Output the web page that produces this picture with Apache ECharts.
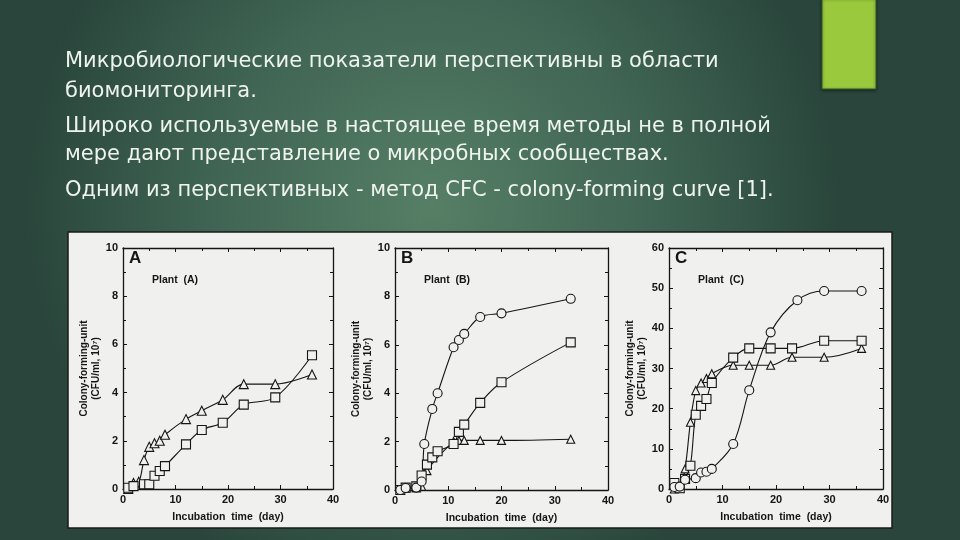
<!DOCTYPE html>
<html><head><meta charset="utf-8">
<script src="https://cdn.jsdelivr.net/npm/echarts@6/dist/echarts.min.js"></script>
<style>html,body{margin:0;padding:0;background:#34554a}#c{width:960px;height:540px}</style>
</head><body><div id="c"></div>
<script>
// ---- slide text ----
const slideLines = [
  'Микробиологические показатели перспективны в области',
  'биомониторинга.',
  'Широко используемые в настоящее время методы не в полной',
  'мере дают представление о микробных сообществах.',
  'Одним из перспективных - метод CFC - colony-forming curve [1].'
];
const panelLetters = ['A', 'B', 'C'];
const plantLabels = ['Plant  (A)', 'Plant  (B)', 'Plant  (C)'];
const xTicksMax = 40;
const yMaxes = [10, 10, 60];
const yIntervals = [2, 2, 10];

// ---- panel A ----
const aTriDays = [1, 2, 3, 4, 5, 6, 7, 8, 12, 15, 19, 23, 29, 36];
const aTri     = [0, 0.25, 0.3, 1.2, 1.75, 1.9, 2.0, 2.25, 2.9, 3.25, 3.7, 4.35, 4.35, 4.75];
const aSqDays  = [1, 2, 4, 5, 6, 7, 8, 12, 15, 19, 23, 29, 36];
const aSq      = [0.05, 0.12, 0.2, 0.2, 0.55, 0.75, 0.95, 1.85, 2.45, 2.75, 3.5, 3.8, 5.55];

// ---- panel B ----
const bCircDays = [1, 2, 4, 5, 5.5, 7, 8, 11, 12, 13, 16, 20, 33];
const bCirc     = [0, 0.08, 0.1, 0.35, 1.9, 3.35, 4.0, 5.9, 6.2, 6.45, 7.15, 7.3, 7.9];
const bSqDays   = [1, 2, 4, 5, 6, 7, 8, 11, 12, 13, 16, 20, 33];
const bSq       = [0, 0.1, 0.15, 0.6, 1.05, 1.35, 1.6, 1.9, 2.4, 2.7, 3.6, 4.45, 6.1];
const bTriDays  = [1, 2, 4, 5, 6, 11, 12, 13, 16, 20, 33];
const bTri      = [0, 0.08, 0.08, 0.15, 0.8, 2.0, 2.05, 2.05, 2.05, 2.05, 2.1];

// ---- panel C ----
const cCircDays = [1, 2, 3, 5, 6, 7, 8, 12, 15, 19, 24, 29, 36];
const cCirc     = [0.5, 0.6, 2.3, 2.7, 4.1, 4.3, 5.0, 11.2, 24.6, 39.0, 47.0, 49.3, 49.3];
const cSqDays   = [1, 2, 3, 4, 5, 6, 7, 8, 12, 15, 19, 23, 29, 36];
const cSq       = [1.5, 0.2, 2.5, 5.8, 18.5, 20.7, 22.4, 26.4, 32.7, 35.0, 35.0, 35.0, 36.9, 36.9];
const cTriDays  = [1, 2, 3, 4, 5, 6, 7, 8, 12, 15, 19, 23, 29, 36];
const cTri      = [0, 0.2, 5.0, 16.6, 24.5, 26.4, 27.5, 28.7, 30.8, 30.8, 30.8, 32.8, 32.8, 35.0];

const zip = (xs, ys) => xs.map((x, i) => [x, ys[i]]);

const grids = [
  {left: 123, top: 248, width: 210, height: 241},
  {left: 395, top: 248, width: 213, height: 242},
  {left: 669, top: 248, width: 214, height: 241}
];
const ink = '#151515';
const paper = '#f0f0ee';
const FONT = '"Liberation Sans", Arial, sans-serif';

const xAxis = [], yAxis = [];
grids.forEach((g, i) => {
  const common = {
    gridIndex: i, type: 'value', min: 0,
    axisLine: {show: true, onZero: false, lineStyle: {color: ink, width: 1.3}},
    axisTick: {show: true, inside: true, length: 4, lineStyle: {color: ink, width: 1}},
    minorTick: {show: true, splitNumber: 2, length: 3, lineStyle: {color: ink, width: 1}},
    splitLine: {show: false}
  };
  xAxis.push(Object.assign({}, common, {
    position: 'bottom', max: xTicksMax, interval: 10,
    axisLabel: {color: ink, fontWeight: 'bold', fontSize: 11, fontFamily: FONT, margin: 5},
    name: 'Incubation  time  (day)', nameLocation: 'middle', nameGap: 23,
    nameTextStyle: {color: ink, fontWeight: 'bold', fontSize: 10.5, fontFamily: FONT}
  }));
  xAxis.push(Object.assign({}, common, {
    position: 'top', max: xTicksMax, interval: 10, axisLabel: {show: false}
  }));
  yAxis.push(Object.assign({}, common, {
    position: 'left', max: yMaxes[i], interval: yIntervals[i],
    axisLabel: {color: ink, fontWeight: 'bold', fontSize: 11, fontFamily: FONT, margin: 5},
    name: 'Colony-forming-unit\n(CFU/ml, 10⁷)', nameLocation: 'middle', nameGap: 20, nameRotate: 90,
    nameTextStyle: {color: ink, fontWeight: 'bold', fontSize: 10, fontFamily: FONT, lineHeight: 12}
  }));
  yAxis.push(Object.assign({}, common, {
    position: 'right', max: yMaxes[i], interval: yIntervals[i], axisLabel: {show: false}
  }));
});

function mk(gi, data, symbol, size) {
  return {
    type: 'line', xAxisIndex: gi * 2, yAxisIndex: gi * 2, data: data,
    smooth: 0.35, symbol: symbol, symbolSize: size, showAllSymbol: true,
    lineStyle: {color: ink, width: 1.1},
    itemStyle: {color: paper, borderColor: ink, borderWidth: 1.1},
    z: 3, animation: false
  };
}

const series = [
  mk(0, zip(aTriDays, aTri), 'triangle', 9),
  mk(0, zip(aSqDays, aSq), 'rect', 9),
  mk(1, zip(bTriDays, bTri), 'triangle', 8),
  mk(1, zip(bSqDays, bSq), 'rect', 9),
  mk(1, zip(bCircDays, bCirc), 'circle', 9),
  mk(2, zip(cTriDays, cTri), 'triangle', 8),
  mk(2, zip(cSqDays, cSq), 'rect', 9),
  mk(2, zip(cCircDays, cCirc), 'circle', 9)
];

const graphic = [
  {type: 'rect', z: -100, shape: {x: 0, y: 0, width: 960, height: 540},
   style: {fill: new echarts.graphic.RadialGradient(0.45, 0.38, 0.75, [
     {offset: 0, color: '#567f66'}, {offset: 0.55, color: '#3f6453'}, {offset: 1, color: '#2a463c'}])}},
  {type: 'rect', z: -90, shape: {x: 822, y: -2, width: 54, height: 91},
   style: {fill: '#9bc93d', stroke: '#2f5a28', lineWidth: 1, shadowBlur: 3, shadowColor: 'rgba(0,0,0,0.5)', shadowOffsetY: 1}},
  {type: 'rect', z: -80, shape: {x: 68, y: 232, width: 824, height: 296},
   style: {fill: paper, stroke: '#1a1a1a', lineWidth: 1.5}}
];
const lineY = [62, 92, 127, 155, 191];
slideLines.forEach((t, i) => graphic.push({
  type: 'text', z: -70, x: 65, y: lineY[i],
  style: {text: t, fill: '#eef3ee', font: '21px "DejaVu Sans", sans-serif', textVerticalAlign: 'middle'}
}));
grids.forEach((g, i) => {
  graphic.push({type: 'text', z: 5, x: g.left + 6, y: g.top + 10,
    style: {text: panelLetters[i], fill: ink, font: 'bold 17px ' + FONT, textVerticalAlign: 'middle'}});
  graphic.push({type: 'text', z: 5, x: g.left + 29, y: g.top + 32,
    style: {text: plantLabels[i], fill: ink, font: 'bold 10.5px ' + FONT, textVerticalAlign: 'middle'}});
});

const chart = echarts.init(document.getElementById('c'), null, {renderer: 'canvas'});
chart.setOption({
  animation: false,
  grid: grids,
  xAxis: xAxis,
  yAxis: yAxis,
  series: series,
  graphic: graphic
});
</script></body></html>
